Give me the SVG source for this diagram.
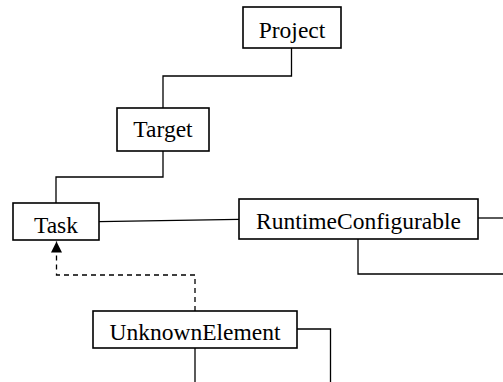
<svg xmlns="http://www.w3.org/2000/svg" width="503" height="382" viewBox="0 0 503 382">
<style>
.box{fill:#fff;stroke:#000;stroke-width:1.6}
.lbl{font-family:"Liberation Serif","Times New Roman",serif;font-size:23.5px;fill:#000;text-anchor:middle}
.edge{fill:none;stroke:#000;stroke-width:1.3}
.dash{stroke-dasharray:5,4}
</style>
<defs>
<marker id="tri" markerWidth="12" markerHeight="11" refX="11" refY="5.5" orient="auto" markerUnits="userSpaceOnUse">
<path d="M0,0 L11,5.5 L0,11 Z" fill="#000"/>
</marker>
</defs>
<rect width="503" height="382" fill="#fff"/>
<g id="connectors">
<path class="edge" d="M291.5 48 V76 H163 V108"/>
<path class="edge" d="M163 151 V177 H56 V203"/>
<path class="edge" d="M99 221.7 L239 219.3"/>
<path class="edge" d="M478 218 H503"/>
<path class="edge" d="M358 239 V274 H503"/>
<path class="edge dash" d="M195 311 V275 H56.5 V241.5" marker-end="url(#tri)"/>
<path class="edge" d="M195 348 V382"/>
<path class="edge" d="M297 329 H330.5 V382"/>
</g>
<g id="Project">
<rect class="box" x="243" y="7" width="98" height="41"/>
<text class="lbl" x="292" y="37.5">Project</text>
</g>
<g id="Target">
<rect class="box" x="117" y="108" width="92" height="43"/>
<text class="lbl" x="163" y="137">Target</text>
</g>
<g id="Task">
<rect class="box" x="13" y="203" width="86" height="37"/>
<text class="lbl" x="56" y="232.5">Task</text>
</g>
<g id="RuntimeConfigurable">
<rect class="box" x="239" y="199" width="239" height="40"/>
<text class="lbl" x="358.5" y="229">RuntimeConfigurable</text>
</g>
<g id="UnknownElement">
<rect class="box" x="93" y="311" width="204" height="37"/>
<text class="lbl" x="195" y="340">UnknownElement</text>
</g>
</svg>
